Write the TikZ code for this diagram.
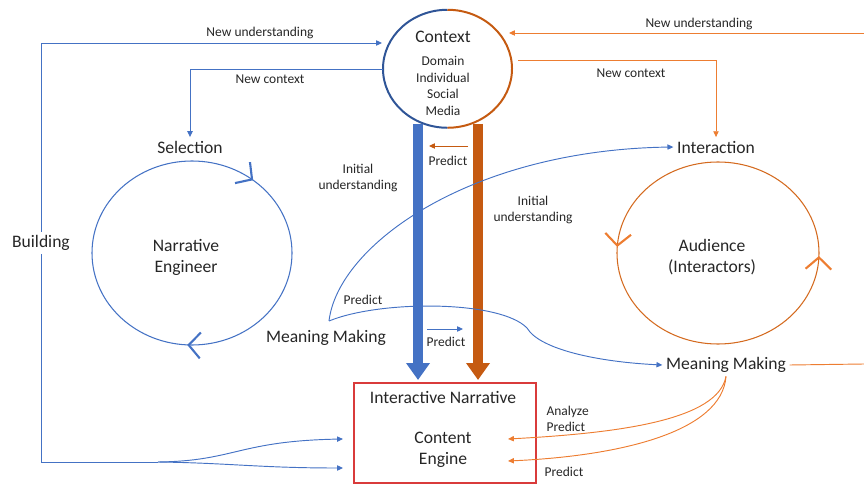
\documentclass[tikz,border=0pt]{standalone}
\usepackage{fontspec}
\setmainfont{Carlito}
\usetikzlibrary{arrows.meta,decorations.markings,shapes.geometric}
\definecolor{cblue}{HTML}{4472C4}
\definecolor{cdblue}{HTML}{2F5597}
\definecolor{corange}{HTML}{ED7D31}
\definecolor{cdorange}{HTML}{C55A11}
\definecolor{cmorange}{HTML}{D46A1F}
\definecolor{cred}{HTML}{D93B3B}
\definecolor{ctext}{HTML}{262626}
\tikzset{chevtip/.tip={Straight Barb[length=10pt,width=22pt,line width=1.8pt]}}
\begin{document}
\begin{tikzpicture}[x=0.03cm,y=-0.03cm,
  big/.style={font=\fontsize{15}{18}\selectfont, text=ctext, inner sep=3pt, align=center},
  small/.style={font=\fontsize{11.5}{13.6}\selectfont, text=ctext, inner sep=2pt, align=center},
  bline/.style={draw=cblue, line width=0.8pt},
  oline/.style={draw=corange, line width=0.8pt},
  tip/.style={-{Triangle[length=5pt,width=4.5pt]}},
  bar/.style={line width=8.5pt, -{Triangle[length=14.5pt,width=19.5pt]}}
]
\useasboundingbox (0,0) rectangle (864,484);

% ---- Context circle
\node[ellipse, minimum width=3.87cm, minimum height=3.54cm, inner sep=0pt] (ctx) at (447.5,69) {};
\draw[cdblue, line width=1.7pt] (ctx.north) arc[start angle=90, end angle=270, x radius=1.935cm, y radius=1.77cm];
\draw[cdorange, line width=1.7pt] (ctx.north) arc[start angle=90, end angle=-90, x radius=1.935cm, y radius=1.77cm];
\node[big] (ctxtitle) at (443,37) {Context};
\node[small, font=\fontsize{11.5}{14.2}\selectfont] (ctxlist) at (443,86) {Domain\\Individual\\Social\\Media};

% ---- Thick bars
\draw[bar, draw=cblue, fill=cblue] (418,124) -- (418,380);
\draw[bar, draw=cdorange, fill=cdorange] (478,124) -- (478,380);

% ---- Engine box
\node[draw=cred, line width=1pt, minimum width=5.46cm, minimum height=3cm, inner sep=0pt] (engine) at (445,433) {};
\node[big] (enginetitle) at (443,397) {Interactive Narrative};
\node[big] (enginetext) at (443,450) {Content\\Engine};

% ---- Selection / Narrative Engineer
\node[big] (sel) at (190,147) {Selection};
\draw[cblue, line width=0.9pt, postaction={decorate},
  decoration={markings,
    mark=at position 0.142 with {\arrowreversed[cblue]{chevtip}},
    mark=at position 0.742 with {\arrowreversed[cblue]{chevtip}}}]
  (192,253) ellipse [x radius=3cm, y radius=2.76cm];
\node[big] (ne) at (186,257) {Narrative\\Engineer};

% ---- Interaction / Audience
\node[big] (inter) at (716,147) {Interaction};
\draw[cmorange, line width=0.9pt, postaction={decorate},
  decoration={markings,
    mark=at position 0.49 with {\arrow[corange]{chevtip}},
    mark=at position 0.995 with {\arrow[corange]{chevtip}}}]
  (718,253) ellipse [x radius=3.03cm, y radius=2.73cm];
\node[big] (aud) at (712,257) {Audience\\(Interactors)};

% ---- Meaning making nodes, Building
\node[big] (mmL) at (326,338) {Meaning Making};
\node[big] (mmR) at (726,365) {Meaning Making};
\node[big] (bld) at (41,243) {Building};

% ---- coordinates
\coordinate (nuL) at (382,43);
\coordinate (nuR) at (509,33);
\coordinate (edgeTop) at (864,33);
\coordinate (edgeMid) at (864,364);
\coordinate (ncR) at (518,60);
\coordinate (split) at (158,462);
\coordinate (ceA) at (343,439);
\coordinate (ceB) at (343,468);
\coordinate (ceR1) at (508,439);
\coordinate (ceR2) at (508,461);
\coordinate (cusp) at (329,321);
\coordinate (poS) at (468,146);
\coordinate (poE) at (429,146);
\coordinate (pbS) at (427,329);
\coordinate (pbE) at (463,329);

% ---- blue connectors
\draw[bline, tip] (bld.north) |- (nuL);
\draw[bline] (bld.south) |- (split);
\draw[bline, tip] (split) .. controls (235,461) and (238,441) .. (ceA);
\draw[bline, tip] (split) .. controls (230,463) and (260,468) .. (ceB);
\draw[bline, tip] (ctx.west) -| (sel.north);
\draw[bline, tip] (cusp) .. controls (338,245) and (470,150) .. (inter.west);
\draw[bline, tip] (cusp) .. controls (380,300) and (500,300) .. (527,328) .. controls (540,350) and (600,362) .. (mmR.west);
\draw[bline, tip] (pbS) -- (pbE);

% ---- orange connectors
\draw[oline, tip] (edgeTop) -- (nuR);
\draw[oline, tip] (ncR) -| (inter.north);
\draw[oline] (mmR.east) -- (edgeMid);
\draw[oline, tip] (mmR.south) .. controls (718,420) and (620,433) .. (ceR1);
\draw[oline, tip] (mmR.south) .. controls (722,432) and (620,456) .. (ceR2);
\draw[draw=cdorange, line width=0.8pt, tip] (poS) -- (poE);

% ---- labels
\node[small] (l1) at (260,33) {New understanding};
\node[small] (l2) at (270,79) {New context};
\node[small] (l3) at (699,24) {New understanding};
\node[small] (l4) at (631,73) {New context};
\node[small] (l5) at (358,178) {Initial\\understanding};
\node[small] (l6) at (533,210) {Initial\\understanding};
\node[small] (l7) at (448,161) {Predict};
\node[small] (l8) at (446,342) {Predict};
\node[small] (l9) at (363,300) {Predict};
\node[small, anchor=west, align=left] (l10) at (544,419) {Analyze\\Predict};
\node[small] (l11) at (564,472) {Predict};
\end{tikzpicture}
\end{document}
